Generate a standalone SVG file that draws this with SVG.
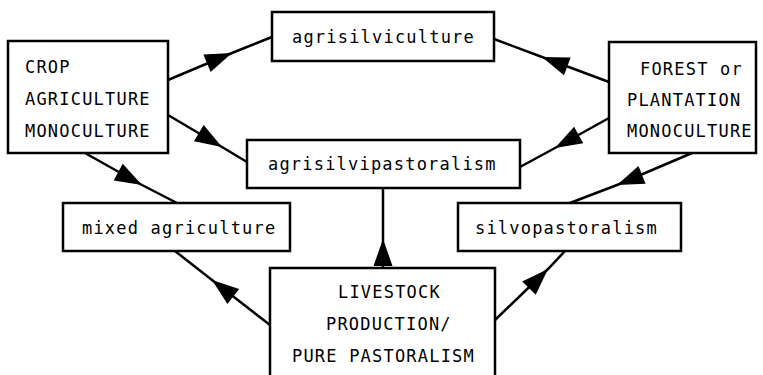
<svg xmlns="http://www.w3.org/2000/svg" width="763" height="375" viewBox="0 0 763 375">
<style>
.box{fill:#fff;stroke:#000;stroke-width:2.5}
.t{font-family:"DejaVu Sans Mono","Liberation Mono",monospace;font-size:17px;letter-spacing:1.2px;fill:#000}
.c{fill:none;stroke:#000;stroke-width:2.5;marker-mid:url(#ah)}
</style>
<defs>
<marker id="ah" markerUnits="userSpaceOnUse" markerWidth="30" markerHeight="22" viewBox="-29 -11 30 22" refX="0" refY="0" orient="auto">
<path d="M0,0 L-27,-9.5 L-27,9.5 Z" fill="#000"/>
</marker>
</defs>
<rect width="763" height="375" fill="#fff"/>
<g id="connectors">
<path class="c" d="M168,80 L232,53 L272,37"/>
<path class="c" d="M168,115 L222,147 L247,162"/>
<path class="c" d="M609,82 L542,57 L494,39"/>
<path class="c" d="M609,118 L555,148 L520,167"/>
<path class="c" d="M85,153 L142,185 L177,203"/>
<path class="c" d="M692,153 L617,185 L570,203"/>
<path class="c" d="M270,325 L212,280 L175,251"/>
<path class="c" d="M383,268 L383,239 L383,188"/>
<path class="c" d="M495,320 L548,269 L565,251"/>
</g>
<g id="crop">
<rect class="box" x="8" y="41" width="160" height="112"/>
<text class="t" x="25" y="73">CROP</text>
<text class="t" x="25" y="105">AGRICULTURE</text>
<text class="t" x="25" y="137">MONOCULTURE</text>
</g>
<g id="forest">
<rect class="box" x="609" y="42" width="147" height="111"/>
<text class="t" x="640" y="75">FOREST or</text>
<text class="t" x="627" y="106">PLANTATION</text>
<text class="t" x="627" y="137">MONOCULTURE</text>
</g>
<g id="agrisilviculture">
<rect class="box" x="272" y="12" width="222" height="49"/>
<text class="t" x="292" y="43">agrisilviculture</text>
</g>
<g id="agrisilvipastoralism">
<rect class="box" x="247" y="140" width="273" height="48"/>
<text class="t" x="268" y="170">agrisilvipastoralism</text>
</g>
<g id="mixed">
<rect class="box" x="63" y="203" width="227" height="48"/>
<text class="t" x="82" y="234">mixed agriculture</text>
</g>
<g id="silvopastoralism">
<rect class="box" x="458" y="203" width="223" height="48"/>
<text class="t" x="475" y="234">silvopastoralism</text>
</g>
<g id="livestock">
<rect class="box" x="270" y="268" width="225" height="120"/>
<text class="t" x="338" y="298">LIVESTOCK</text>
<text class="t" x="326" y="330">PRODUCTION/</text>
<text class="t" x="292" y="362">PURE PASTORALISM</text>
</g>
</svg>
